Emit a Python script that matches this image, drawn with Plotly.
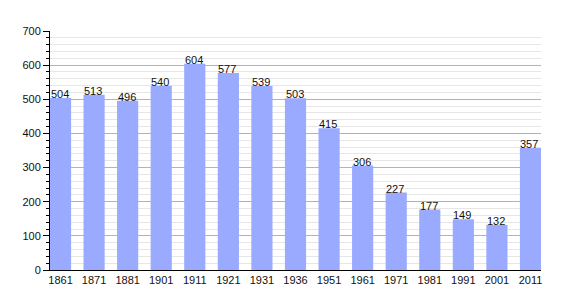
import plotly.graph_objects as go

years = ["1861", "1871", "1881", "1901", "1911", "1921", "1931", "1936",
         "1951", "1961", "1971", "1981", "1991", "2001", "2011"]
population = [504, 513, 496, 540, 604, 577, 539, 503, 415, 306, 227, 177, 149, 132, 357]

fig = go.Figure(go.Bar(
    x=years, y=population,
    marker=dict(color="#99aaff", line=dict(width=0)),
    width=0.63,
    hoverinfo="x+y",
))

for i, v in enumerate(population):
    fig.add_annotation(
        x=i, y=v, text=str(v), showarrow=False,
        xanchor="center", yanchor="bottom", yshift=-4, xshift=-1,
        font=dict(size=11, color="#111"),
    )

fig.update_layout(
    width=570, height=300,
    margin=dict(l=50, r=29, t=31, b=30),
    paper_bgcolor="white", plot_bgcolor="white",
    font=dict(family="Liberation Sans, Arial, sans-serif", size=11, color="#111"),
    showlegend=False,
)
fig.update_xaxes(
    type="category", range=[-0.313, 14.313],
    showline=True, linecolor="black", linewidth=1,
    ticks="", showgrid=False, tickfont=dict(size=11),
)
fig.update_yaxes(
    range=[0, 700], dtick=100,
    showline=True, linecolor="black", linewidth=1,
    ticks="outside", ticklen=6, tickcolor="black",
    showgrid=True, gridcolor="#b3b3b3", gridwidth=1,
    zeroline=False,
    minor=dict(dtick=20, ticks="outside", ticklen=3, tickcolor="black",
               showgrid=True, gridcolor="#e6e6e6", gridwidth=1),
    tickfont=dict(size=11),
)

fig.write_html("out.html")
